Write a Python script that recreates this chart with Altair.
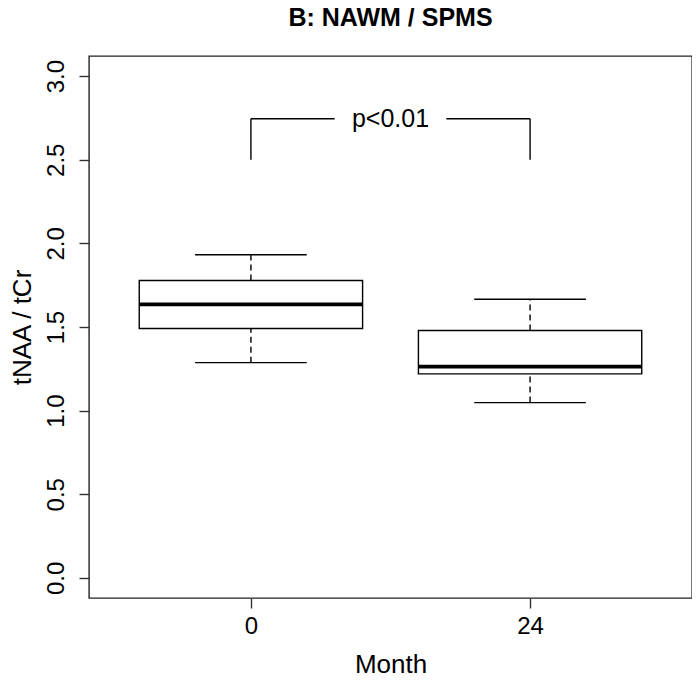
import altair as alt
import pandas as pd

# ---- data ----
months = ["0", "24"]
positions = [1, 2]
whisker_low = [1.287, 1.048]
q1 = [1.491, 1.220]
medians = [1.635, 1.263]
q3 = [1.778, 1.479]
whisker_high = [1.932, 1.666]

# significance bracket
bracket_top = 2.745
bracket_bottom = 2.5
gap_from, gap_to = 1.3, 1.7
p_label = "p<0.01"

box_half = 0.4
cap_half = 0.2

FONT = "Liberation Sans"

df = pd.DataFrame({
    "month": months,
    "pos": positions,
    "lo": whisker_low,
    "q1": q1,
    "med": medians,
    "q3": q3,
    "hi": whisker_high,
})

seg = pd.DataFrame({
    "x": [positions[0], positions[1], positions[0], gap_to],
    "x2": [positions[0], positions[1], gap_from, positions[1]],
    "y": [bracket_bottom, bracket_bottom, bracket_top, bracket_top],
    "y2": [bracket_top, bracket_top, bracket_top, bracket_top],
})
lab = pd.DataFrame({"x": [sum(positions) / 2], "y": [bracket_top], "t": [p_label]})

xscale = alt.Scale(domain=[0.42, 2.58], nice=False, zero=False)
yscale = alt.Scale(domain=[-0.12, 3.12], nice=False, zero=False)

label_list = "[''," + ",".join("'" + m + "'" for m in months) + "]"
xaxis = alt.Axis(values=positions, labelExpr=label_list + "[datum.value]",
                 title="Month", labelPadding=6, titlePadding=13,
                 labelFontSize=24, titleFontSize=26)
yaxis = alt.Axis(values=[0, 0.5, 1, 1.5, 2, 2.5, 3], format=".1f",
                 labelAngle=-90, labelAlign="center", labelBaseline="alphabetic",
                 labelPadding=16, title="tNAA / tCr", titlePadding=9,
                 labelFontSize=24, titleFontSize=26)

base = alt.Chart(df).transform_calculate(
    left=f"datum.pos - {box_half}",
    right=f"datum.pos + {box_half}",
    capl=f"datum.pos - {cap_half}",
    capr=f"datum.pos + {cap_half}",
)

X = lambda f: alt.X(f, type="quantitative", scale=xscale, axis=xaxis)
Y = lambda f: alt.Y(f, type="quantitative", scale=yscale, axis=yaxis)

whisk_hi = base.mark_rule(color="black", strokeWidth=1.4, strokeDash=[6, 4]).encode(
    x=X("pos"), y=Y("q3"), y2="hi")
whisk_lo = base.mark_rule(color="black", strokeWidth=1.4, strokeDash=[6, 4]).encode(
    x=X("pos"), y=Y("lo"), y2="q1")
cap_hi = base.mark_rule(color="black", strokeWidth=1.4).encode(
    x=X("capl"), x2="capr", y=Y("hi"))
cap_lo = base.mark_rule(color="black", strokeWidth=1.4).encode(
    x=X("capl"), x2="capr", y=Y("lo"))
box = base.mark_rect(fill="white", stroke="black", strokeWidth=1.4).encode(
    x=X("left"), x2="right", y=Y("q1"), y2="q3")
med = base.mark_rule(color="black", strokeWidth=3.6).encode(
    x=X("left"), x2="right", y=Y("med"))

brk = alt.Chart(seg).mark_rule(color="black", strokeWidth=1.4).encode(
    x=X("x"), x2="x2", y=Y("y"), y2="y2")
txt = alt.Chart(lab).mark_text(font=FONT, fontSize=25, baseline="middle",
                               color="black").encode(
    x=X("x"), y=Y("y"), text="t:N")

chart = alt.layer(whisk_hi, whisk_lo, cap_hi, cap_lo, box, med, brk, txt).properties(
    width=603, height=542,
    title=alt.TitleParams("B: NAWM / SPMS", font=FONT, fontSize=25, fontWeight="bold",
                          anchor="middle", baseline="alphabetic", offset=5, color="black"),
    autosize=alt.AutoSizeParams(type="none"),
    padding={"left": 81, "top": 48, "right": 0, "bottom": 79},
).configure_view(
    stroke="#222", strokeWidth=1.4
).configure_axis(
    domain=False, grid=False, ticks=True, tickColor="#333", tickSize=10, tickWidth=1.4,
    labelFont=FONT, labelColor="black",
    titleFont=FONT, titleFontWeight="normal", titleColor="black",
)

chart.save("out.html", embed_options={"renderer": "svg", "actions": False})
